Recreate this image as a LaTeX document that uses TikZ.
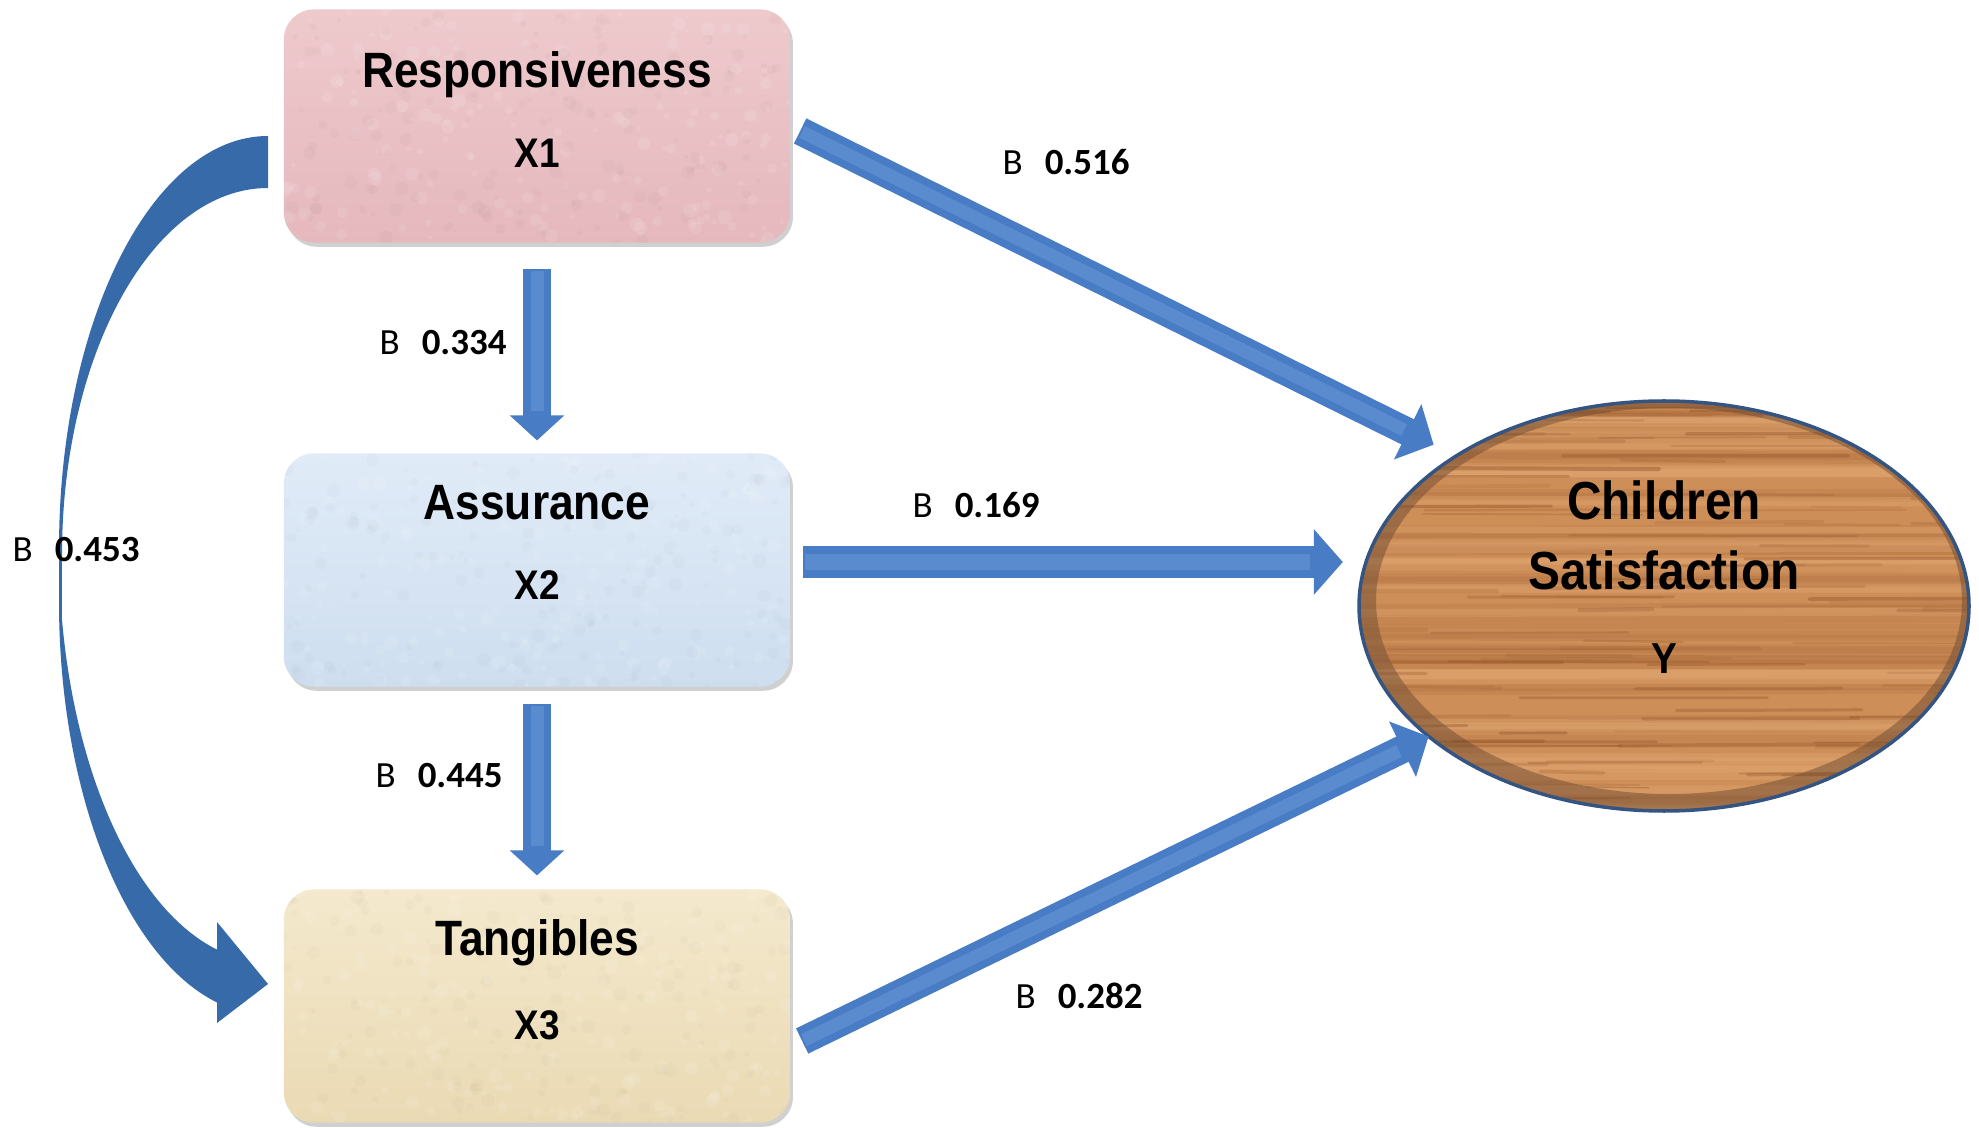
\documentclass[tikz,border=0pt]{standalone}
\usepackage{fontspec}
\setmainfont{Liberation Sans}
\newfontfamily\coeffont{Carlito}
\usetikzlibrary{arrows.meta,shapes.geometric,calc,shadows}

\definecolor{pinkbox}{RGB}{229,184,189}
\definecolor{pinktop}{RGB}{238,202,205}
\definecolor{bluebox}{RGB}{206,222,239}
\definecolor{bluetop}{RGB}{224,235,247}
\definecolor{tanbox}{RGB}{234,218,180}
\definecolor{tantop}{RGB}{244,233,205}
\definecolor{wood}{RGB}{206,142,88}
\definecolor{woodgrain}{RGB}{145,84,40}
\definecolor{woodlight}{RGB}{232,178,124}
\definecolor{woodrim}{RGB}{112,76,50}
\definecolor{rimline}{RGB}{52,84,130}
\definecolor{arrowblue}{RGB}{72,124,196}
\definecolor{arrowhi}{RGB}{112,158,222}
\definecolor{curveblue}{RGB}{55,106,168}

\newcommand{\tall}[1]{\scalebox{1}[1.12]{#1}}

\begin{document}
\begin{tikzpicture}[x=0.01cm,y=-0.01cm,
  box/.style={rectangle, rounded corners=0.3cm, minimum width=5.06cm,
    minimum height=2.33cm, inner sep=0pt, outer sep=0pt,
    drop shadow={shadow xshift=0.8pt, shadow yshift=-1.2pt, opacity=0.3, fill=black!60}},
  ttl/.style={font=\fontsize{12.6}{15}\selectfont\bfseries, anchor=base, inner sep=0pt},
  sub/.style={font=\fontsize{10.5}{12}\selectfont\bfseries, anchor=base, inner sep=0pt},
  ytl/.style={font=\fontsize{13.6}{16}\selectfont\bfseries, anchor=base, inner sep=0pt},
  coef/.style={font=\coeffont\fontsize{10.5}{12}\selectfont, inner sep=0pt},
  barrow/.style={draw=arrowblue, line width=0.28cm,
    -{Triangle[width=0.6cm,length=0.29cm]},
    postaction={draw=arrowhi, line width=0.13cm, arrows=-, shorten >=0.33cm,
      shorten <=0.02cm, opacity=0.45}},
  varrow/.style={draw=arrowblue, line width=0.28cm,
    -{Triangle[width=0.53cm,length=0.25cm]},
    postaction={draw=arrowhi, line width=0.13cm, arrows=-, shorten >=0.29cm,
      shorten <=0.02cm, opacity=0.45}},
  harrow/.style={draw=arrowblue, line width=0.32cm,
    -{Triangle[width=0.64cm,length=0.29cm]},
    postaction={draw=arrowhi, line width=0.15cm, arrows=-, shorten >=0.33cm,
      shorten <=0.02cm, opacity=0.45}},
]
% page
\fill[white] (0,0) rectangle (1979,1128);
\useasboundingbox (0,0) rectangle (1979,1128);

% the three predictor boxes
\node[box, top color=pinktop, bottom color=pinkbox] (x1) at (537,126) {};
\node[box, top color=bluetop, bottom color=bluebox] (x2) at (537,570) {};
\node[box, top color=tantop, bottom color=tanbox] (x3) at (537,1006) {};

% fine mottled paper texture inside the boxes
\pgfmathsetseed{17}
\foreach \b/\tint in {x1/pinkbox!70!black, x2/bluebox!75!black, x3/tanbox!75!black}{
  \begin{scope}
    \clip[rounded corners=0.3cm] (\b.south west) rectangle (\b.north east);
    \foreach \k in {1,...,160}{
      \pgfmathsetmacro{\px}{rnd*506-253}
      \pgfmathsetmacro{\py}{rnd*233-116}
      \pgfmathsetmacro{\pr}{2+5*rnd}
      \fill[\tint, opacity=0.06] ($(\b.center)+(\px,\py)$) circle [radius=\pr];
      \pgfmathsetmacro{\qx}{rnd*506-253}
      \pgfmathsetmacro{\qy}{rnd*233-116}
      \fill[white, opacity=0.1] ($(\b.center)+(\qx,\qy)$) circle [radius=\pr];
    }
  \end{scope}
}

% outcome: wooden ellipse
\node[ellipse, minimum width=6.1cm, minimum height=4.1cm, inner sep=0pt, outer sep=0pt,
  fill=wood] (y) at (1664,606) {};
\begin{scope}
  \clip (y.center) ellipse [x radius=305, y radius=205];
  \pgfmathsetseed{42}
  % broad soft bands
  \foreach \i in {1,...,34}{
    \pgfmathsetmacro{\gy}{395+420*rnd}
    \pgfmathsetmacro{\gw}{0.05+0.1*rnd}
    \draw[woodgrain, line width=\gw cm, opacity=0.12] (1340,\gy) -- (1990,{\gy+4*rnd-2});
  }
  \foreach \i in {1,...,26}{
    \pgfmathsetmacro{\gy}{395+420*rnd}
    \pgfmathsetmacro{\gw}{0.05+0.1*rnd}
    \draw[woodlight, line width=\gw cm, opacity=0.3] (1340,\gy) -- (1990,{\gy+4*rnd-2});
  }
  % thin grain streaks
  \foreach \i in {1,...,110}{
    \pgfmathsetmacro{\gx}{1320+620*rnd}
    \pgfmathsetmacro{\gy}{395+420*rnd}
    \pgfmathsetmacro{\gl}{60+260*rnd}
    \pgfmathsetmacro{\gw}{0.012+0.03*rnd}
    \pgfmathsetmacro{\go}{0.12+0.3*rnd}
    \draw[woodgrain, line width=\gw cm, opacity=\go, line cap=round]
      (\gx,\gy) -- ++(\gl,{3*rnd-1.5});
  }
  % darker bevelled rim, heavier at the lower left
  \fill[woodrim, opacity=0.5, even odd rule]
    (y.center) ellipse [x radius=306, y radius=206]
    ($(y.center)+(5,-5)$) ellipse [x radius=293, y radius=193];
\end{scope}
\draw[rimline, line width=0.035cm] (y.center) ellipse [x radius=305, y radius=205];

% texts of the nodes
\node[ttl] (t1) at ($(x1.center)+(0,-38)$) {\tall{Responsiveness}};
\node[sub] (s1) at ($(x1.center)+(0,42)$) {\tall{X1}};
\node[ttl] (t2) at ($(x2.center)+(0,-50)$) {\tall{Assurance}};
\node[sub] (s2) at ($(x2.center)+(0,30)$) {\tall{X2}};
\node[ttl] (t3) at ($(x3.center)+(0,-51)$) {\tall{Tangibles}};
\node[sub] (s3) at ($(x3.center)+(0,33)$) {\tall{X3}};
\node[ytl] (ty1) at ($(y.center)+(0,-86)$) {\tall{Children}};
\node[ytl] (ty2) at ($(y.center)+(0,-16)$) {\tall{Satisfaction}};
\node[font=\fontsize{11}{13}\selectfont\bfseries, anchor=base, inner sep=0pt] (ty3)
  at ($(y.center)+(0,67)$) {\tall{Y}};

% curved arrow from Responsiveness down to Tangibles
\fill[curveblue]
  (268,136) arc[start angle=270, end angle=180, x radius=209, y radius=413]
  -- (59,602) arc[start angle=180, end angle=104.1, x radius=209, y radius=413]
  -- (217,1023) -- (268,984) -- (217,922) -- (217,949.6)
  arc[start angle=104.1, end angle=170.3, x radius=209, y radius=413]
  -- (62,555) arc[start angle=180, end angle=270, x radius=206, y radius=367]
  -- cycle;

% straight paths
\draw[varrow] ($(x1.south)+(0,26)$) -- ($(x2.north)+(0,-13)$);
\draw[varrow] ($(x2.south)+(0,17)$) -- ($(x3.north)+(0,-14)$);
\coordinate (h2) at ($(x2.east)+(13,-8)$);
\draw[harrow] (h2) -- ($(h2 -| y.west)+(-16,0)$);
\draw[barrow] ($(x1.east)+(10,5)$) -- ($(y.center)!1.09!(y.145)$);
\draw[barrow] ($(x3.east)+(12,35)$) -- (y.209);

% path coefficients
\node[coef] (c1) at (1066,162) {B\hspace{0.6em}\textbf{0.516}};
\node[coef] (c2) at (443,343) {B\hspace{0.6em}\textbf{0.334}};
\node[coef] (c3) at (976,505) {B\hspace{0.6em}\textbf{0.169}};
\node[coef] (c4) at (76,550) {B\hspace{0.6em}\textbf{0.453}};
\node[coef] (c5) at (439,776) {B\hspace{0.6em}\textbf{0.445}};
\node[coef] (c6) at (1079,996) {B\hspace{0.6em}\textbf{0.282}};
\end{tikzpicture}
\end{document}
